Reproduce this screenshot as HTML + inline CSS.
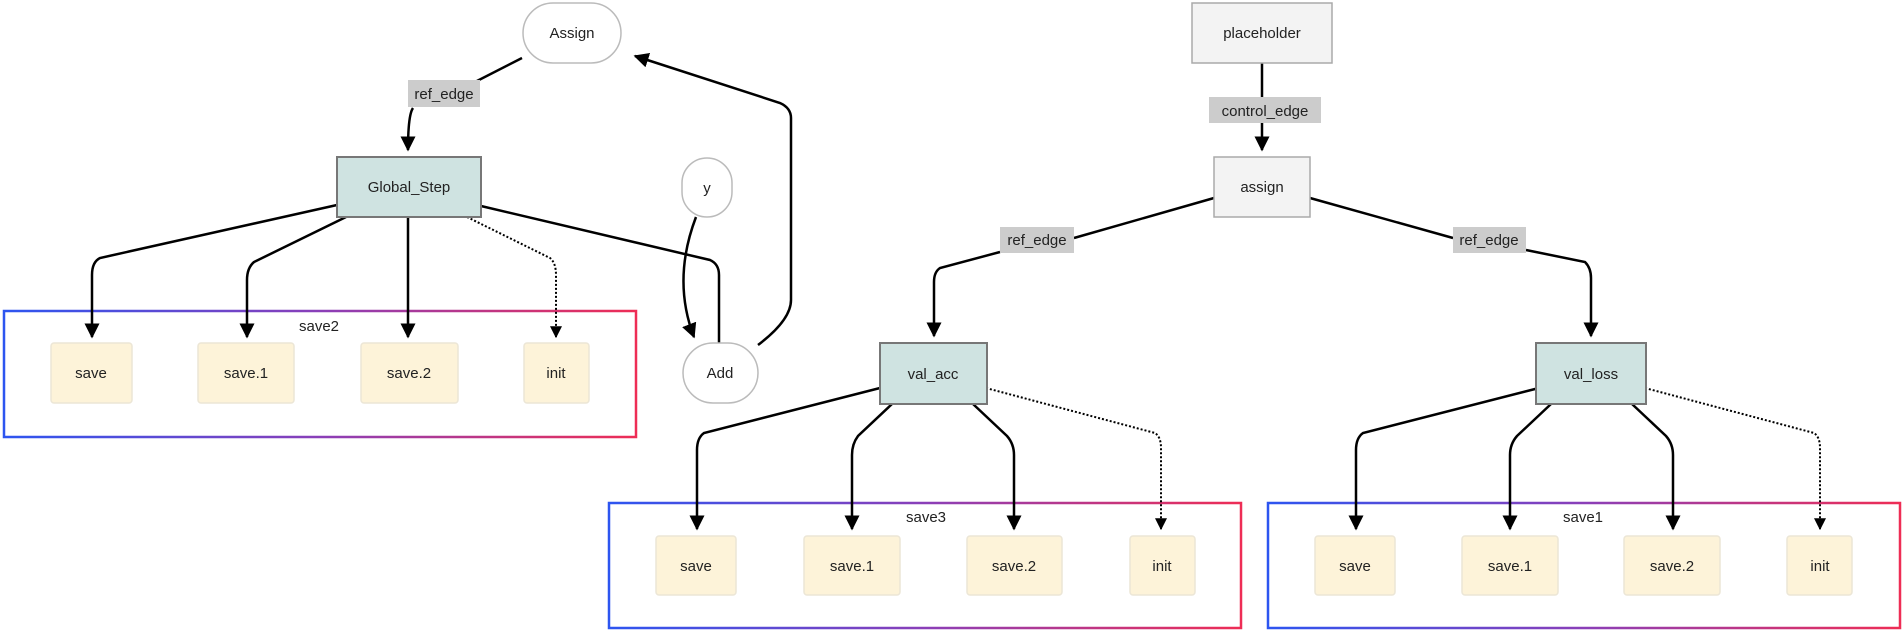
<!DOCTYPE html>
<html><head><meta charset="utf-8"><style>
html,body{margin:0;padding:0;background:#fff;}
svg{display:block;}
text{font-family:"Liberation Sans",sans-serif;font-size:15px;fill:#222;}
</style></head><body>
<svg width="1904" height="633" viewBox="0 0 1904 633" xmlns="http://www.w3.org/2000/svg">
<defs>
<linearGradient id="g" x1="0" y1="0" x2="1" y2="0">
<stop offset="0" stop-color="#2d55f0"/><stop offset="0.5" stop-color="#8a3fb8"/><stop offset="1" stop-color="#ee2d55"/>
</linearGradient>
<marker id="a" viewBox="0 0 10 10" refX="9" refY="5" markerWidth="6" markerHeight="6" orient="auto"><path d="M0,0L10,5L0,10z" fill="#000"/></marker>
</defs>

<!-- group boxes -->
<rect x="4" y="311" width="632" height="126" fill="none" stroke="url(#g)" stroke-width="2.5"/>
<rect x="609" y="503" width="632" height="125" fill="none" stroke="url(#g)" stroke-width="2.5"/>
<rect x="1268" y="503" width="632" height="125" fill="none" stroke="url(#g)" stroke-width="2.5"/>
<text x="319" y="331" text-anchor="middle">save2</text>
<text x="926" y="522" text-anchor="middle">save3</text>
<text x="1583" y="522" text-anchor="middle">save1</text>

<g fill="none" stroke="#000" stroke-width="2.5">
<!-- left -->
<path d="M522,58 L475,82"/>
<path d="M413,108 Q408,115 408,150" marker-end="url(#a)"/>
<path d="M337,205 L100,258 Q92,262 92,275 L92,337" marker-end="url(#a)"/>
<path d="M346,217 L254,262 Q247,268 247,280 L247,337" marker-end="url(#a)"/>
<path d="M408,217 L408,337" marker-end="url(#a)"/>
<path d="M467,217 L550,258 Q556,263 556,275 L556,337" stroke-dasharray="2,2" stroke-width="2" marker-end="url(#a)"/>
<path d="M481,206 L710,260 Q719,264 719,275 L719,343"/>
<path d="M696,217 Q672,280 694,337" marker-end="url(#a)"/>
<path d="M758,345 Q791,320 791,300 L791,118 Q791,108 780,103 L635,56" marker-end="url(#a)"/>
<!-- right -->
<path d="M1262,63 L1262,97"/>
<path d="M1262,123 L1262,150" marker-end="url(#a)"/>
<path d="M1214,198 L1074,238"/>
<path d="M1000,252 L940,268 Q934,272 934,282 L934,336" marker-end="url(#a)"/>
<path d="M1310,198 L1453,238"/>
<path d="M1526,250 L1585,262 Q1591,268 1591,278 L1591,336" marker-end="url(#a)"/>
<path d="M880,388 L704,433 Q697,438 697,450 L697,529" marker-end="url(#a)"/>
<path d="M892,404 L858,436 Q852,444 852,455 L852,529" marker-end="url(#a)"/>
<path d="M973,404 L1007,436 Q1014,444 1014,455 L1014,529" marker-end="url(#a)"/>
<path d="M986,388 L1155,433 Q1161,437 1161,448 L1161,529" stroke-dasharray="2,2" stroke-width="2" marker-end="url(#a)"/>
<path d="M1539,388 L1363,433 Q1356,438 1356,450 L1356,529" marker-end="url(#a)"/>
<path d="M1551,404 L1517,436 Q1510,444 1510,455 L1510,529" marker-end="url(#a)"/>
<path d="M1632,404 L1666,436 Q1673,444 1673,455 L1673,529" marker-end="url(#a)"/>
<path d="M1645,388 L1814,433 Q1820,437 1820,448 L1820,529" stroke-dasharray="2,2" stroke-width="2" marker-end="url(#a)"/>
</g>

<!-- edge labels -->
<rect x="408" y="80" width="72" height="27" fill="#cccccc"/>
<text x="444" y="99" text-anchor="middle" fill="#444">ref_edge</text>
<rect x="1209" y="97" width="112" height="26" fill="#cccccc"/>
<text x="1265" y="116" text-anchor="middle" fill="#444">control_edge</text>
<rect x="1000" y="227" width="74" height="26" fill="#cccccc"/>
<text x="1037" y="245" text-anchor="middle" fill="#444">ref_edge</text>
<rect x="1453" y="227" width="73" height="26" fill="#cccccc"/>
<text x="1489" y="245" text-anchor="middle" fill="#444">ref_edge</text>

<!-- round nodes -->
<rect x="523" y="3" width="98" height="60" rx="30" fill="#fff" stroke="#bbb" stroke-width="1.5"/>
<text x="572" y="38" text-anchor="middle">Assign</text>
<rect x="682" y="158" width="50" height="59" rx="25" fill="#fff" stroke="#bbb" stroke-width="1.5"/>
<text x="707" y="193" text-anchor="middle">y</text>
<rect x="683" y="343" width="75" height="60" rx="30" fill="#fff" stroke="#bbb" stroke-width="1.5"/>
<text x="720" y="378" text-anchor="middle">Add</text>

<!-- grey nodes -->
<rect x="1192" y="3" width="140" height="60" fill="#f3f3f3" stroke="#aaa" stroke-width="1.5"/>
<text x="1262" y="38" text-anchor="middle">placeholder</text>
<rect x="1214" y="157" width="96" height="60" fill="#f3f3f3" stroke="#aaa" stroke-width="1.5"/>
<text x="1262" y="192" text-anchor="middle">assign</text>

<!-- teal nodes -->
<rect x="337" y="157" width="144" height="60" fill="#cfe3e1" stroke="#777" stroke-width="2"/>
<text x="409" y="192" text-anchor="middle">Global_Step</text>
<rect x="880" y="343" width="107" height="61" fill="#cfe3e1" stroke="#777" stroke-width="2"/>
<text x="933" y="379" text-anchor="middle">val_acc</text>
<rect x="1536" y="343" width="110" height="61" fill="#cfe3e1" stroke="#777" stroke-width="2"/>
<text x="1591" y="379" text-anchor="middle">val_loss</text>

<!-- beige nodes -->
<g fill="#fdf3d9" stroke="#ece6d6" stroke-width="1.5">
<rect x="51" y="343" width="81" height="60" rx="3"/>
<rect x="198" y="343" width="96" height="60" rx="3"/>
<rect x="361" y="343" width="97" height="60" rx="3"/>
<rect x="524" y="343" width="65" height="60" rx="3"/>
<rect x="656" y="536" width="80" height="59" rx="3"/>
<rect x="804" y="536" width="96" height="59" rx="3"/>
<rect x="967" y="536" width="95" height="59" rx="3"/>
<rect x="1130" y="536" width="65" height="59" rx="3"/>
<rect x="1315" y="536" width="80" height="59" rx="3"/>
<rect x="1462" y="536" width="96" height="59" rx="3"/>
<rect x="1624" y="536" width="96" height="59" rx="3"/>
<rect x="1787" y="536" width="65" height="59" rx="3"/>
</g>
<g text-anchor="middle">
<text x="91" y="378">save</text><text x="246" y="378">save.1</text><text x="409" y="378">save.2</text><text x="556" y="378">init</text>
<text x="696" y="571">save</text><text x="852" y="571">save.1</text><text x="1014" y="571">save.2</text><text x="1162" y="571">init</text>
<text x="1355" y="571">save</text><text x="1510" y="571">save.1</text><text x="1672" y="571">save.2</text><text x="1820" y="571">init</text>
</g>
</svg>
</body></html>
